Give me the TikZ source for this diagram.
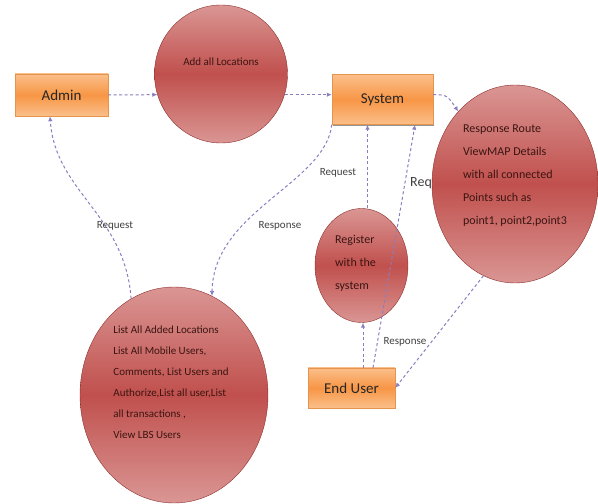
\documentclass[tikz,border=0pt]{standalone}
\usepackage{fontspec}
\setmainfont{Carlito}
\usetikzlibrary{arrows.meta, positioning, shapes.geometric, shadows}

\definecolor{boxorange}{HTML}{F79646}
\definecolor{boxlight}{HTML}{FBBF8A}
\definecolor{boxedge}{HTML}{E5944E}
\definecolor{circred}{HTML}{C0504D}
\definecolor{circlight}{HTML}{DA9694}
\definecolor{circedge}{HTML}{8C2F2C}
\definecolor{circtext}{HTML}{3B1512}
\definecolor{flowcol}{HTML}{8B7DBF}

\begin{document}
\begin{tikzpicture}[
    x=1pt, y=1pt,
    block/.style={draw=boxedge, thin, top color=boxlight, bottom color=boxlight,
    middle color=boxorange, text=black!85, font=\fontsize{15}{18}\selectfont,
    drop shadow={shadow xshift=0.6pt, shadow yshift=-1.4pt, fill=black!60, opacity=0.7}},
    process/.style={draw=circedge, ellipse, inner sep=0pt, top color=circlight,
    bottom color=circlight, middle color=circred},
    ptext/.style={align=left, text=circtext},
    flow/.style={color=flowcol, line width=1pt, dash pattern=on 3pt off 2.5pt,
    -{Latex[length=5pt, width=4.5pt]}},
    lbl/.style={text=black!75, font=\fontsize{11}{13}\selectfont}
    ]
    \useasboundingbox (0,0) rectangle (598,504);

    \node[block, minimum width=93pt, minimum height=42pt]     (admin)    at (61.5,409)   {Admin};
    \node[process, minimum width=133pt, minimum height=138pt] (addloc)   at (221,430)    {};
    \node[block, minimum width=101pt, minimum height=50pt]    (system)   at (382.5,404.5) {System};

    \node[lbl, font=\fontsize{14}{16}\selectfont]             (reqcut)   at (421,321)    {Req};
    \node[process, minimum width=166pt, minimum height=198pt] (resp)     at (515,320)    {};
    \node[process, minimum width=93pt, minimum height=114pt]  (reg)      at (361.5,238.5) {};
    \node[block, minimum width=87pt, minimum height=40pt]     (enduser)  at (351.5,116)  {End User};
    \node[process, minimum width=188pt, minimum height=216pt] (lists)    at (174,109)    {};

    % texts inside the processes
    \node[ptext, font=\fontsize{11}{13}\selectfont] (addloctext) at ([yshift=12]addloc.center)
      {Add all Locations};
    \node[ptext, font=\fontsize{12}{23}\selectfont] (resptext) at ([yshift=8]resp.center)
      {Response Route\\ViewMAP Details\\with all connected\\Points such as\\point1, point2,point3};
    \node[ptext, font=\fontsize{12}{23}\selectfont] (regtext) at ([xshift=-6,yshift=2]reg.center)
      {Register\\with the\\system};
    \node[ptext, font=\fontsize{11}{21}\selectfont] (liststext) at ([xshift=-3,yshift=13]lists.center)
      {List All Added Locations\\List All Mobile Users,\\Comments, List Users and\\Authorize,List all user,List\\all transactions ,\\View LBS Users};

    \path[flow]
      (admin.east)                  edge (addloc.198)
      (addloc.342)                  edge (addloc.342 -| system.west)
      ([xshift=6]reg.north)         edge ([xshift=6]reg.north |- system.south)
      ([xshift=21.5]enduser.north)  edge ([xshift=32.5]system.south)
      ([xshift=11.5]enduser.north)  edge ([xshift=11.5]enduser.north |- reg.south)
      (resp.251)                    edge (enduser.east)
    ;
    \draw[flow] ([yshift=5]system.east) .. controls (447,409) .. (resp.128);
    \draw[flow] (lists.114) .. controls (125,290) and (55,312) .. ([xshift=-11.5]admin.south);
    \draw[flow] (system.south west) .. controls (325,320) and (213,293) .. (lists.69);

    \node[lbl] (reqadmin)  at (115,278) {Request};
    \node[lbl] (reqsys)    at (338,331) {Request};
    \node[lbl] (respadmin) at (280,278) {Response};
    \node[lbl] (respuser)  at (405,162) {Response};
  \end{tikzpicture}
\end{document}
